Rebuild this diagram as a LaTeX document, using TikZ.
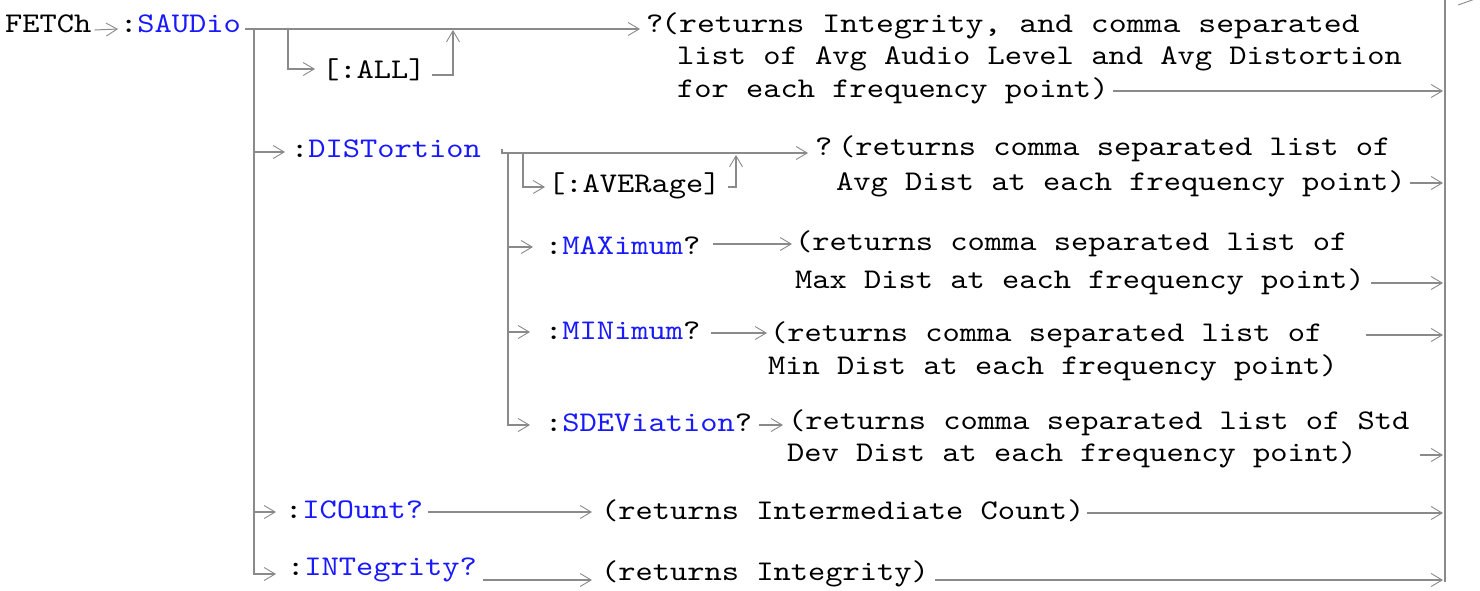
\documentclass[tikz,border=0pt]{standalone}
\usepackage{fontspec}
\usepackage{graphicx}
\usetikzlibrary{arrows.meta,calc}
\newfontfamily\cour{lmmono10-regular.otf}[FakeStretch=1.153]
\definecolor{ln}{RGB}{138,138,138}
\definecolor{kwc}{RGB}{25,25,255}
\newcommand\kw[1]{\textcolor{kwc}{#1}}
\tikzset{
  txt/.style={anchor=base west, inner sep=0pt, font=\cour\fontsize{28.5}{32}\selectfont, text=black},
  wire/.style={draw=ln, line width=1.6pt},
  arr/.style={wire, -{Straight Barb[length=11pt,width=13pt,line width=0.9pt]}},
}
\begin{document}
\begin{tikzpicture}[x=1pt,y=-1pt]
\useasboundingbox (0,0) rectangle (1480,590);
% ---- text nodes
\node[txt] (fetch)  at (5,32)   {FETCh};
\node[txt] (saudio) at (120,32) {:\kw{SAUDio}};
\node[txt] (all)    at (322,78) {[:ALL]};
\node[txt] (q1)     at (646,32) {?};
\node[txt] (r1a)    at (661,32) {\scalebox{1.038}[1]{(returns Integrity, and comma separated}};
\node[txt] (r1b)    at (677,64) {list of Avg Audio Level and Avg Distortion};
\node[txt] (r1c)    at (677,97) {for each frequency point)};
\node[txt] (dist)   at (291,157) {:\kw{DISTortion}};
\node[txt] (q2)     at (815,155) {?};
\node[txt] (r2a)    at (838,155) {(returns comma separated list of};
\node[txt] (avg)    at (548,192) {[:AVERage]};
\node[txt] (r2b)    at (836,190) {Avg Dist at each frequency point)};
\node[txt] (max)    at (545,254) {:\kw{MAXimum}?};
\node[txt] (r3a)    at (795,250) {(returns comma separated list of};
\node[txt] (r3b)    at (795,288) {Max Dist at each frequency point)};
\node[txt] (min)    at (545,339) {:\kw{MINimum}?};
\node[txt] (r4a)    at (770,341) {(returns comma separated list of};
\node[txt] (r4b)    at (768,374) {Min Dist at each frequency point)};
\node[txt] (sdev)   at (545,431) {:\kw{SDEViation}?};
\node[txt] (r5a)    at (788,429) {(returns comma separated list of Std};
\node[txt] (r5b)    at (787,461) {Dev Dist at each frequency point)};
\node[txt] (icount) at (285,518) {:\kw{ICOunt?}};
\node[txt] (r6)     at (601,519) {(returns Intermediate Count)};
\node[txt] (integ)  at (287,575) {:\kw{INTegrity?}};
\node[txt] (r7)     at (601,580) {(returns Integrity)};
% ---- junction coordinates
\coordinate (trtop) at (254,29);
\coordinate (alltop) at (288,29);
\coordinate (allret) at (453,29);
\coordinate (subtop) at (508,153);
\coordinate (avgtop) at (523,153);
\coordinate (avgret) at (736,153);
\coordinate (bartop) at (1445,0);
\coordinate (barbot) at (1445,582);
% ---- connectors
\draw[arr,line width=1pt] ($(fetch.base east)+(3,-2)$) -- ($(saudio.base west)+(-2,-3)$);
\draw[arr] ($(saudio.base east)+(4,-3)$) -- ($(q1.base west)+(-6,-3)$);
\draw[wire] (bartop) -- (barbot);
\draw[ln,line width=0.9pt] (1458,5) -- (1475,-1);
% [:ALL]
\draw[arr] (alltop) |- ($(all.base west)+(-7,-9)$);
\draw[arr] ($(all.base east)+(6,-3)$) -| ($(allret)+(0,1)$);
\draw[arr] ($(r1c.base east)+(4,-6)$) -- ($(r1c.base east-|barbot)+(-2,-6)$);
% main trunk
\draw[arr] (trtop) |- ($(integ.base west)+(-11,-1)$);
\draw[arr] (254,152) -- ($(dist.base west)+(-6,-5)$);
\draw[arr] (254,512) -- ($(icount.base west)+(-9,-6)$);
% DISTortion
\draw[arr] ($(dist.base east)+(21,-8)$) |- ($(q2.base west)+(-7,-2)$);
\draw[arr] (avgtop) |- ($(avg.base west)+(-3,-5)$);
\draw[arr] ($(avg.base east)+(7,-5)$) -| ($(avgret)+(0,2)$);
\draw[arr] (subtop) |- ($(sdev.base west)+(-15,-6)$);
\draw[arr] (508,247) -- ($(max.base west)+(-12,-7)$);
\draw[arr] (508,332) -- ($(min.base west)+(-15,-7)$);
\draw[arr] ($(r2b.base east)+(4,-7)$) -- ($(r2b.base east-|barbot)+(-2,-7)$);
\draw[arr] ($(max.base east)+(12,-10)$) -- ($(r3a.base west)+(-3,-6)$);
\draw[arr] ($(r3b.base east)+(6,-5)$) -- ($(r3b.base east-|barbot)+(-2,-5)$);
\draw[arr] ($(min.base east)+(10,-6)$) -- ($(r4a.base west)+(-3,-8)$);
\draw[arr] ($(r4a.base east)+(44,-6)$) -- ($(r4a.base east-|barbot)+(-2,-6)$);
\draw[arr] ($(sdev.base east)+(7,-6)$) -- ($(r5a.base west)+(-5,-4)$);
\draw[arr] ($(r5b.base east)+(63,-6)$) -- ($(r5b.base east-|barbot)+(-2,-6)$);
% ICOunt, INTegrity
\draw[arr] ($(icount.base east)+(5,-6)$) -- ($(r6.base west)+(-9,-7)$);
\draw[arr] ($(r6.base east)+(3,-6)$) -- ($(r6.base east-|barbot)+(-2,-6)$);
\draw[arr] ($(integ.base east)+(6,5)$) -- ($(r7.base west)+(-9,0)$);
\draw[arr] ($(r7.base east)+(6,0)$) -- ($(r7.base east-|barbot)+(-2,0)$);
\end{tikzpicture}
\end{document}
